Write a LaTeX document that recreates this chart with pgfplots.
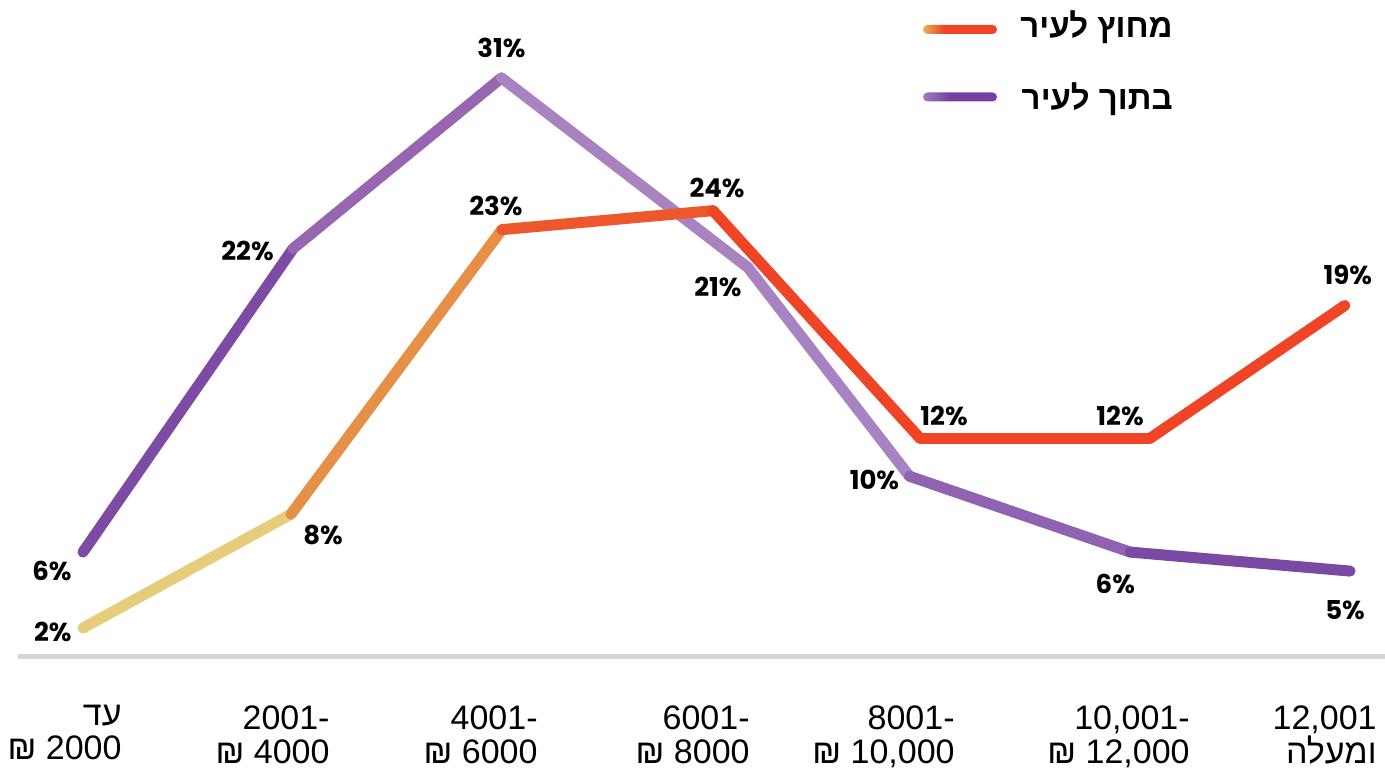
\documentclass[border=0pt]{standalone}
\usepackage{pgfplots}
\pgfplotsset{compat=1.18}
\usepackage{pgfplotstable}
\usepackage{fontspec}
\setmainfont{Liberation Sans}
\newfontfamily\heb[Script=Hebrew]{Liberation Sans}
\newfontfamily\hebbold[Script=Hebrew]{Liberation Sans Bold}
\newfontfamily\valfont{Poppins}
\TeXXeTstate=1

\definecolor{basegray}{RGB}{214,214,214}
\definecolor{legGold}{RGB}{226,180,88}
\definecolor{legRed}{RGB}{239,68,38}
\definecolor{legLilac}{RGB}{160,122,192}
\definecolor{legPurple}{RGB}{114,66,160}

\pgfdeclarehorizontalshading{legorange}{100bp}{color(0bp)=(legGold); color(25bp)=(legGold); color(39bp)=(legRed); color(100bp)=(legRed)}
\pgfdeclarehorizontalshading{legpurple}{100bp}{color(0bp)=(legLilac); color(25bp)=(legLilac); color(43bp)=(legPurple); color(100bp)=(legPurple)}

% colour at every vertex; each segment takes the mean of its two ends
\pgfplotsset{
  colormap={orgmap}{rgb255(0cm)=(237,227,154) rgb255(1cm)=(226,180,92) rgb255(2cm)=(235,106,50) rgb255(3cm)=(239,68,38) rgb255(4cm)=(239,68,38) rgb255(5cm)=(239,68,38) rgb255(6cm)=(239,68,38)},
  colormap={purmap}{rgb255(0cm)=(108,60,156) rgb255(1cm)=(142,90,171) rgb255(2cm)=(162,114,184) rgb255(3cm)=(177,146,201) rgb255(4cm)=(156,116,188) rgb255(5cm)=(132,82,168) rgb255(6cm)=(112,64,160)},
}
\tikzset{lbl/.style={font=\valfont\bfseries\fontsize{13}{13}\selectfont, inner sep=0pt, text=black}}

% share of households by monthly income: outside the city
\pgfplotstableread{
x      y   idx
0      2   0
0.989  8   1
1.992  23  2
2.996  24  3
3.980  12  4
5.074  12  5
6.000  19  6
}\outside

% inside the city
\pgfplotstableread{
x      y   idx
0      6   0
0.999  22  1
1.990  31  2
3.162  21  3
3.930  10  4
4.980  6   5
6.025  5   6
}\inside

\begin{document}
\begin{tikzpicture}
\path[use as bounding box] (-9pt,-56.5pt) rectangle (683.5pt,328.5pt);
\begin{axis}[
  at={(0pt,0pt)}, anchor=south west,
  scale only axis, width=683.5pt, height=328.5pt,
  xmin=-0.309, xmax=6.191, ymin=0.471, ymax=35.105,
  axis x line=bottom, axis y line=none,
  axis line style={-, draw=basegray, line width=2.5pt},
  ytick=\empty,
  xtick={0.1855,1.1745,2.1636,3.1717,4.1465,5.264,6.153},
  xticklabels={
    {{\heb\beginR עד\endR}\\₪ 2000},
    {2001-\\₪ 4000},
    {4001-\\₪ 6000},
    {6001-\\₪ 8000},
    {8001-\\₪ 10,000},
    {10,001-\\₪ 12,000},
    {12,001\\{\heb\beginR ומעלה\endR}}},
  major tick length=0pt,
  xtick style={draw=none},
  xticklabel style={anchor=north east, inner sep=0pt, yshift=-24pt,
    align=right, font=\fontsize{17}{17}\selectfont},
  clip=false,
  point meta min=0, point meta max=6,
]
\addplot[mesh, colormap name=purmap, point meta=\thisrow{idx},
  line width=5.5pt, line cap=round] table[x=x, y=y] {\inside};
\addplot[mesh, colormap name=orgmap, point meta=\thisrow{idx},
  line width=5.5pt, line cap=round] table[x=x, y=y] {\outside};

% value labels, outside the city
\node[lbl, anchor=east, xshift=-5.5pt, yshift=-2pt] at (axis cs:0,2) {2\%};
\node[lbl, anchor=north west, xshift=6pt, yshift=-5.5pt] at (axis cs:0.989,8) {8\%};
\node[lbl, anchor=south, xshift=-3pt, yshift=6.5pt] at (axis cs:1.992,23) {23\%};
\node[lbl, anchor=south, xshift=2pt, yshift=6pt] at (axis cs:2.996,24) {24\%};
\node[lbl, anchor=south, xshift=12pt, yshift=6pt] at (axis cs:3.980,12) {12\%};
\node[lbl, anchor=south, xshift=-15pt, yshift=6pt] at (axis cs:5.074,12) {12\%};
\node[lbl, anchor=south, xshift=1.5pt, yshift=10pt] at (axis cs:6.000,19) {19\%};
% value labels, inside the city
\node[lbl, anchor=north east, xshift=-5.5pt, yshift=-4.5pt] at (axis cs:0,6) {6\%};
\node[lbl, anchor=east, xshift=-9.5pt, yshift=-1pt] at (axis cs:0.999,22) {22\%};
\node[lbl, anchor=south, yshift=10pt] at (axis cs:1.990,31) {31\%};
\node[lbl, anchor=north east, xshift=-3pt, yshift=-4.5pt] at (axis cs:3.162,21) {21\%};
\node[lbl, anchor=east, xshift=-5pt, yshift=-2pt] at (axis cs:3.930,10) {10\%};
\node[lbl, anchor=north, xshift=-7.5pt, yshift=-11pt] at (axis cs:4.980,6) {6\%};
\node[lbl, anchor=north, xshift=-2.5pt, yshift=-14.5pt] at (axis cs:6.025,5) {5\%};
\end{axis}

% legend
\shade[shading=legorange, rounded corners=2.25pt] (452.5pt,311.5pt) rectangle (489.5pt,316pt);
\shade[shading=legpurple, rounded corners=2.25pt] (452.5pt,277.75pt) rectangle (489.5pt,282.25pt);
\node[anchor=base east, inner sep=0pt, font=\hebbold\fontsize{16.5}{16.5}\selectfont] at (577.5pt,309.5pt) {\beginR מחוץ לעיר\endR};
\node[anchor=base east, inner sep=0pt, font=\hebbold\fontsize{16.5}{16.5}\selectfont] at (577.5pt,273.5pt) {\beginR בתוך לעיר\endR};
\end{tikzpicture}
\end{document}
